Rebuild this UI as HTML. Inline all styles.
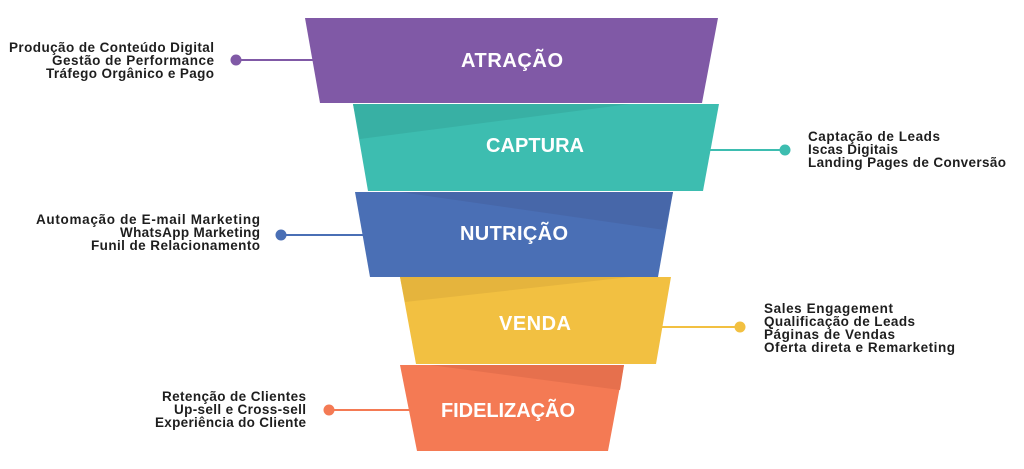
<!DOCTYPE html>
<html><head><meta charset="utf-8"><style>
html,body{margin:0;padding:0;background:#fff;}
svg{display:block}
.t{font-family:"Liberation Sans",sans-serif;font-weight:bold;font-size:13.5px;fill:#1e1e1e}
.h{font-family:"Liberation Sans",sans-serif;font-weight:bold;font-size:20px;fill:#fff;text-anchor:middle}
</style></head><body>
<svg width="1024" height="469" viewBox="0 0 1024 469">
<line x1="236" y1="60" x2="315" y2="60" stroke="#8059a6" stroke-width="2"/>
<circle cx="236" cy="60" r="5.5" fill="#8059a6"/>
<line x1="705" y1="150" x2="785" y2="150" stroke="#3dbdb0" stroke-width="2"/>
<circle cx="785" cy="150" r="5.5" fill="#3dbdb0"/>
<line x1="281" y1="235" x2="365" y2="235" stroke="#4a6fb5" stroke-width="2"/>
<circle cx="281" cy="235" r="5.5" fill="#4a6fb5"/>
<line x1="660" y1="327" x2="740" y2="327" stroke="#f2c041" stroke-width="2"/>
<circle cx="740" cy="327" r="5.5" fill="#f2c041"/>
<line x1="329" y1="410" x2="410" y2="410" stroke="#f47a54" stroke-width="2"/>
<circle cx="329" cy="410" r="5.5" fill="#f47a54"/>

<polygon points="305,18 718,18 702,103 320,103" fill="#8059a6"/>
<polygon points="353,104 719,104 703,191 368,191" fill="#3dbdb0"/>
<polygon points="353,104 630,104 360,139" fill="#38b0a4"/>
<polygon points="355,192 673,192 658,277 370,277" fill="#4a6fb5"/>
<polygon points="400,192 673,192 665,230" fill="#4767a9"/>
<polygon points="400,277 671,277 656,364 416,364" fill="#f2c041"/>
<polygon points="400,277 630,277 405,302" fill="#e5b43d"/>
<polygon points="400,365 624,365 608,451 417,451" fill="#f47a54"/>
<polygon points="430,365 624,365 620,390" fill="#e6704d"/>

<text class="h" x="512" y="67" textLength="102">ATRAÇÃO</text>
<text class="h" x="535" y="152" textLength="98">CAPTURA</text>
<text class="h" x="514" y="240" textLength="108">NUTRIÇÃO</text>
<text class="h" x="535" y="330" textLength="72">VENDA</text>
<text class="h" x="508" y="417" textLength="134">FIDELIZAÇÃO</text>

<g class="t" text-anchor="end">
<text x="214" y="52" textLength="205">Produção de Conteúdo Digital</text>
<text x="214" y="65" textLength="162">Gestão de Performance</text>
<text x="214" y="78" textLength="168">Tráfego Orgânico e Pago</text>
<text x="260" y="224" textLength="224">Automação de E-mail Marketing</text>
<text x="260" y="237" textLength="140">WhatsApp Marketing</text>
<text x="260" y="250" textLength="169">Funil de Relacionamento</text>
<text x="306" y="401" textLength="144">Retenção de Clientes</text>
<text x="306" y="414" textLength="132">Up-sell e Cross-sell</text>
<text x="306" y="427" textLength="151">Experiência do Cliente</text>
</g>
<g class="t">
<text x="808" y="141" textLength="132">Captação de Leads</text>
<text x="808" y="154" textLength="90">Iscas Digitais</text>
<text x="808" y="167" textLength="198">Landing Pages de Conversão</text>
<text x="764" y="313" textLength="129">Sales Engagement</text>
<text x="764" y="326" textLength="151">Qualificação de Leads</text>
<text x="764" y="339" textLength="131">Páginas de Vendas</text>
<text x="764" y="352" textLength="191">Oferta direta e Remarketing</text>
</g>
</svg>
</body></html>
